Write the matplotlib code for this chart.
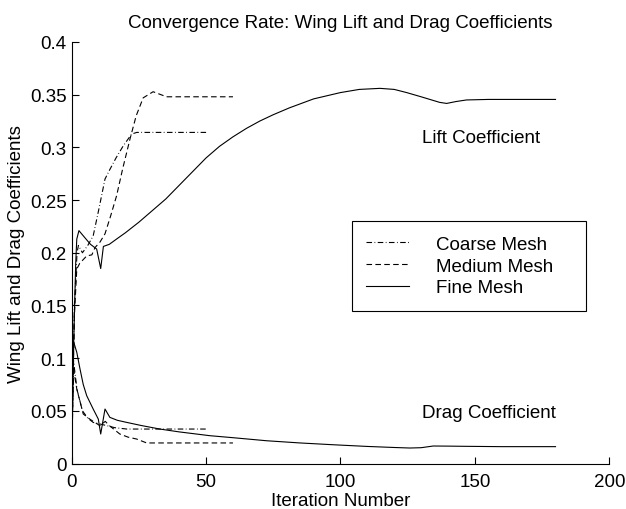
import matplotlib
matplotlib.use('Agg')
import matplotlib.pyplot as plt

plt.rcParams['font.family'] = ['Liberation Sans', 'DejaVu Sans']

# lift coefficient curves
coarse_lift_x = [0, 1, 2, 2.5, 4, 6, 8, 10, 12.4, 14.2, 16.5, 19.2, 22.3, 24.2, 50]
coarse_lift_y = [0, 0.15, 0.2, 0.207, 0.2, 0.207, 0.216, 0.24, 0.27, 0.279, 0.29, 0.3015, 0.3126, 0.3142, 0.3142]

medium_lift_x = [0, 1, 1.9, 3, 5.6, 7.5, 8.7, 10.5, 12.4, 14.5, 16.7, 19, 21.7, 24, 26.6, 30.3, 35.3, 60]
medium_lift_y = [0, 0.14, 0.1845, 0.19, 0.197, 0.198, 0.205, 0.21, 0.218, 0.235, 0.254, 0.28, 0.308, 0.33, 0.347, 0.3528, 0.348, 0.348]

fine_lift_x = [0, 0.6, 1.5, 1.9, 2.7, 5, 7, 9.3, 10.8, 11.8, 14, 16.7, 20, 25, 30, 35, 40, 45,
               50, 55, 60, 65, 70, 75, 81, 90, 100, 107, 114.7, 120, 124.6, 130, 136.9, 139.5,
               143, 146.9, 155, 180]
fine_lift_y = [0, 0.10, 0.19, 0.213, 0.221, 0.214, 0.208, 0.2035, 0.185, 0.206, 0.208, 0.213, 0.219,
               0.229, 0.240, 0.251, 0.264, 0.277, 0.290, 0.301, 0.310, 0.318, 0.325, 0.331, 0.3375,
               0.346, 0.352, 0.355, 0.356, 0.355, 0.352, 0.348, 0.3427, 0.3417, 0.3435, 0.345,
               0.3455, 0.3455]

# drag coefficient curves
coarse_drag_x = [0, 0.6, 2, 4, 6, 8, 10.5, 13, 16, 20.5, 50]
coarse_drag_y = [0, 0.099, 0.07, 0.05, 0.043, 0.039, 0.0375, 0.036, 0.034, 0.0327, 0.0327]

medium_drag_x = [0, 0.5, 1, 1.9, 4.3, 6.8, 10.5, 12.5, 14, 17.9, 21, 24.2, 27.9, 60]
medium_drag_y = [0, 0.1, 0.085, 0.0707, 0.047, 0.042, 0.0359, 0.04, 0.036, 0.028, 0.025, 0.0232, 0.0195, 0.0195]

fine_drag_x = [0, 0.6, 1.9, 3.1, 4.3, 5.6, 8, 9.9, 10.8, 12.4, 14.2, 17, 20.5, 26, 32.8, 40, 51.4, 60,
               72.5, 85, 97.3, 110, 120, 125.8, 130, 134.5, 140, 146.9, 160, 180]
fine_drag_y = [0, 0.1165, 0.1055, 0.0897, 0.075, 0.0643, 0.0517, 0.0422, 0.028, 0.0517, 0.0438, 0.041,
               0.039, 0.036, 0.0327, 0.030, 0.0264, 0.0245, 0.0216, 0.0195, 0.0178, 0.0162, 0.0152,
               0.0147, 0.015, 0.0166, 0.0165, 0.0163, 0.016, 0.016]

x_ticks = [0, 50, 100, 150, 200]
y_ticks = [0, 0.05, 0.1, 0.15, 0.2, 0.25, 0.3, 0.35, 0.4]
y_tick_labels = ['0', '0.05', '0.1', '0.15', '0.2', '0.25', '0.3', '0.35', '0.4']

fs = 13.5
lw = 0.8
dash = (5, 3)
dashdot = (5, 2.2, 0.7, 2.2)

fig = plt.figure(figsize=(6.26, 5.10), dpi=100)
ax = fig.add_axes([0.1145, 0.0892, 0.8588, 0.8265])

ax.plot(coarse_lift_x, coarse_lift_y, color='black', lw=lw, dashes=dashdot, label='Coarse Mesh')
ax.plot(medium_lift_x, medium_lift_y, color='black', lw=lw, dashes=dash, label='Medium Mesh')
ax.plot(fine_lift_x, fine_lift_y, color='black', lw=lw, label='Fine Mesh')
ax.plot(coarse_drag_x, coarse_drag_y, color='black', lw=lw, dashes=dashdot)
ax.plot(medium_drag_x, medium_drag_y, color='black', lw=lw, dashes=dash)
ax.plot(fine_drag_x, fine_drag_y, color='black', lw=lw)

ax.set_xlim(0, 200)
ax.set_ylim(0, 0.4)
ax.set_xticks(x_ticks)
ax.set_yticks(y_ticks)
ax.set_yticklabels(y_tick_labels)
ax.tick_params(direction='in', length=5, width=0.8, labelsize=fs)
ax.tick_params(axis='x', pad=7)
ax.tick_params(axis='y', pad=3.5)
for s in ['top', 'right']:
    ax.spines[s].set_visible(False)
for s in ['left', 'bottom']:
    ax.spines[s].set_linewidth(0.8)

ax.set_title('Convergence Rate: Wing Lift and Drag Coefficients', fontsize=fs, pad=11)
ax.set_xlabel('Iteration Number', fontsize=fs, labelpad=1)
ax.set_ylabel('Wing Lift and Drag Coefficients', fontsize=fs)
ax.yaxis.set_label_coords(-0.087, 0.5)

ax.text(130.2, 0.309, 'Lift Coefficient', fontsize=fs, va='center', ha='left')
ax.text(130.2, 0.0486, 'Drag Coefficient', fontsize=fs, va='center', ha='left')

leg = ax.legend(loc='lower left', bbox_to_anchor=(0.521, 0.3625, 0.436, 0.208), mode='expand',
                borderaxespad=0, fontsize=fs, fancybox=False, framealpha=1, edgecolor='black',
                handlelength=2.3, handletextpad=1.45, labelspacing=0.25, borderpad=0.76)
leg.get_frame().set_linewidth(0.8)

fig.savefig('out.png', dpi=100)
